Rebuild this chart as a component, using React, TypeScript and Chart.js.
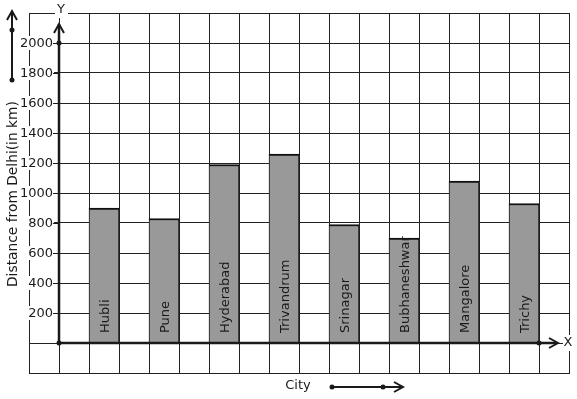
import React, { useEffect, useRef } from "react";
import { Chart, registerables } from "chart.js";

Chart.register(...registerables);

const cities = ["Hubli", "Pune", "Hyderabad", "Trivandrum", "Srinagar", "Bubhaneshwar", "Mangalore", "Trichy"];
const distances = [900, 830, 1190, 1260, 790, 700, 1080, 930];
const yTickLabels = [200, 400, 600, 800, 1000, 1200, 1400, 1600, 1800, 2000];
const yAxisTitle = "Distance from Delhi(in km)";
const xAxisTitle = "City";
const columnCount = 18;
const firstBarColumn = 2;
const barStep = 2;

const FONT = "13px 'DejaVu Sans'";
const INK = "#1a1a1a";

function chevron(ctx: CanvasRenderingContext2D, tx: number, ty: number, dir: "up" | "right") {
  ctx.beginPath();
  if (dir === "up") {
    ctx.moveTo(tx - 5, ty + 9);
    ctx.lineTo(tx, ty);
    ctx.lineTo(tx + 5, ty + 9);
  } else {
    ctx.moveTo(tx - 9, ty - 5);
    ctx.lineTo(tx, ty);
    ctx.lineTo(tx - 9, ty + 5);
  }
  ctx.stroke();
}

function dot(ctx: CanvasRenderingContext2D, x: number, y: number) {
  ctx.beginPath();
  ctx.arc(x, y, 2.5, 0, Math.PI * 2);
  ctx.fill();
}

const decorPlugin = {
  id: "decor",
  afterDraw(chart: any) {
    const ctx: CanvasRenderingContext2D = chart.ctx;
    const xs = chart.scales.x;
    const ys = chart.scales.y;
    const area = chart.chartArea;
    const colW = xs.getPixelForValue(1) - xs.getPixelForValue(0);
    const axisX = Math.round(xs.getPixelForValue(0) + colW / 2);
    const axisY = Math.round(ys.getPixelForValue(0));
    ctx.save();
    ctx.font = FONT;
    ctx.fillStyle = INK;
    ctx.strokeStyle = INK;

    // bar labels
    cities.forEach((c, i) => {
      const cx = xs.getPixelForValue(firstBarColumn + i * barStep);
      ctx.save();
      ctx.translate(cx + 5, axisY - 10);
      ctx.rotate(-Math.PI / 2);
      ctx.textAlign = "left";
      ctx.textBaseline = "alphabetic";
      ctx.fillText(c, 0, 0);
      ctx.restore();
    });

    // y tick labels
    ctx.textAlign = "right";
    ctx.textBaseline = "middle";
    ctx.lineWidth = 1;
    yTickLabels.forEach((v) => {
      const y = Math.round(ys.getPixelForValue(v));
      const t = String(v);
      const w = ctx.measureText(t).width;
      ctx.fillStyle = "#ffffff";
      ctx.fillRect(axisX - 6 - w - 2, y - 7, w + 3, 14);
      ctx.fillStyle = INK;
      ctx.fillText(t, axisX - 6, y + 1);
      ctx.beginPath();
      ctx.moveTo(axisX - 6, y + 0.5);
      ctx.lineTo(axisX, y + 0.5);
      ctx.stroke();
    });

    // axes
    ctx.lineWidth = 2.5;
    ctx.beginPath();
    ctx.moveTo(axisX, axisY);
    ctx.lineTo(axisX, area.top + 11);
    ctx.stroke();
    ctx.lineWidth = 2;
    chevron(ctx, axisX, area.top + 11, "up");
    ctx.lineWidth = 2.5;
    ctx.beginPath();
    ctx.moveTo(axisX, axisY);
    ctx.lineTo(area.right - 12, axisY);
    ctx.stroke();
    ctx.lineWidth = 2;
    chevron(ctx, area.right - 11, axisY, "right");
    dot(ctx, axisX, axisY);
    dot(ctx, axisX, Math.round(ys.getPixelForValue(2000)));
    dot(ctx, area.right - 30, axisY);

    // axis letters
    ctx.textAlign = "center";
    ctx.textBaseline = "middle";
    ctx.fillStyle = "#ffffff";
    ctx.fillRect(axisX - 4, area.top - 6, 13, 11);
    ctx.fillRect(area.right - 6, axisY - 8, 12, 16);
    ctx.fillStyle = INK;
    ctx.fillText("Y", axisX + 2, area.top - 3);
    ctx.fillText("X", area.right - 1, axisY);

    // y axis title
    ctx.save();
    ctx.font = "13.8px 'DejaVu Sans'";
    ctx.translate(17, 287);
    ctx.rotate(-Math.PI / 2);
    ctx.textAlign = "left";
    ctx.textBaseline = "alphabetic";
    ctx.fillText(yAxisTitle, 0, 0);
    ctx.restore();

    // vertical arrow on the left
    ctx.lineWidth = 2;
    ctx.beginPath();
    ctx.moveTo(12, 80);
    ctx.lineTo(12, 11);
    ctx.stroke();
    chevron(ctx, 12, 11, "up");
    dot(ctx, 12, 80);
    dot(ctx, 12, 30);

    // x title and arrow
    ctx.textAlign = "center";
    ctx.fillText(xAxisTitle, 298, 386);
    ctx.beginPath();
    ctx.moveTo(332, 387);
    ctx.lineTo(402, 387);
    ctx.stroke();
    chevron(ctx, 403, 387, "right");
    dot(ctx, 332, 387);
    dot(ctx, 383, 387);

    ctx.restore();
  },
};

export default function App() {
  const ref = useRef<HTMLCanvasElement | null>(null);
  useEffect(() => {
    if (!ref.current) return;
    const labels = Array.from({ length: columnCount }, () => "");
    const data: (number | null)[] = Array.from({ length: columnCount }, () => null);
    distances.forEach((d, i) => {
      data[firstBarColumn + i * barStep] = d;
    });
    const chart = new Chart(ref.current, {
      type: "bar",
      data: {
        labels,
        datasets: [
          {
            data,
            backgroundColor: "#999999",
            borderColor: "#111111",
            borderWidth: { top: 2, left: 1, right: 1, bottom: 0 } as any,
            borderSkipped: "bottom",
            categoryPercentage: 1,
            barPercentage: 1,
          },
        ],
      },
      options: {
        responsive: false,
        animation: false,
        events: [],
        layout: { padding: { left: 29, right: 8, top: 13, bottom: 26 } },
        plugins: { legend: { display: false }, tooltip: { enabled: false }, title: { display: false } },
        scales: {
          x: {
            type: "category",
            offset: true,
            grid: { display: true, offset: true, color: "#222222", lineWidth: 1, drawTicks: false, tickLength: 0 },
            border: { display: true, color: "#222222", width: 1 },
            ticks: { display: false },
            afterFit: (s: any) => {
              s.height = 0;
            },
          },
          y: {
            type: "linear",
            min: -200,
            max: 2200,
            ticks: { display: false, stepSize: 200 },
            grid: { display: true, color: "#222222", lineWidth: 1, drawTicks: false, tickLength: 0 },
            border: { display: true, color: "#222222", width: 1 },
            afterFit: (s: any) => {
              s.width = 0;
            },
          },
        },
      },
      plugins: [decorPlugin],
    });
    return () => chart.destroy();
  }, []);
  return (
    <div style={{ position: "absolute", left: 0, top: 0, width: 577, height: 399, background: "#fff" }}>
      <canvas ref={ref} width={577} height={399} style={{ display: "block" }} />
    </div>
  );
}
